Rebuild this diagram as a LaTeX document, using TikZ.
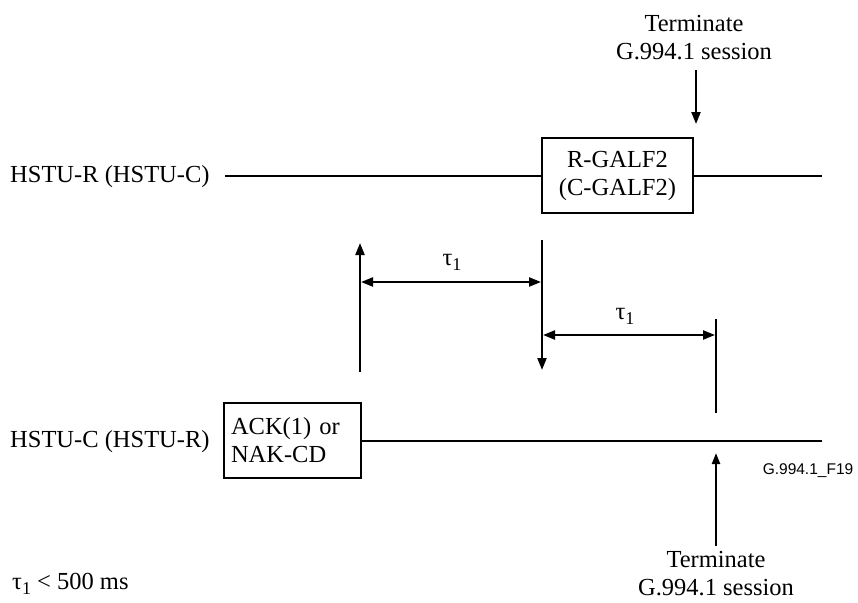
\documentclass[tikz,border=0pt]{standalone}
\usepackage{fontspec}
\setmainfont{Liberation Serif}
\newfontfamily\figsans{Liberation Sans}
\usetikzlibrary{arrows.meta}
\newcommand{\tauone}{τ\raisebox{-5pt}{\fontsize{18}{18}\selectfont 1}}
\begin{document}
\begin{tikzpicture}[x=1pt,y=-1pt,
  every node/.style={font=\fontsize{24.5}{28}\selectfont, inner sep=0pt},
  sig/.style={line width=2.2pt},
  box/.style={draw, line width=1.1pt, inner sep=0pt},
  tip/.style={-{Triangle[length=12pt,width=9pt]}},
  dtip/.style={{Triangle[length=12pt,width=9pt]}-{Triangle[length=12pt,width=9pt]}},
  lbl/.style={align=center}]
\useasboundingbox (0,0) rectangle (858,602);

% upper line
\node[anchor=west] (hr) at (10,177) {HSTU-R (HSTU-C)};
\node[box, minimum width=151pt, minimum height=75pt, align=center] (rg) at (617.5,175.5) {R-GALF2\\(C-GALF2)};
\coordinate (t1) at (225,176);
\coordinate (t2) at (822,176);
\draw[sig] (t1) -- (t1 -| rg.west);
\draw[sig] (t2 -| rg.east) -- (t2);

% top terminate
\node[lbl] (term1) at (694,38) {Terminate\\G.994.1 session};
\coordinate (a1s) at (696,70);
\coordinate (a1e) at (696,124);
\draw[sig, tip] (a1s) -- (a1e);

% lower line
\node[anchor=west] (hc) at (10,442) {HSTU-C (HSTU-R)};
\node[box, minimum width=137pt, minimum height=75pt, align=left, text width=123pt, inner xsep=7pt] (ack) at (292.5,440.5) {ACK(1) or\\NAK-CD};
\coordinate (b2) at (822,441);
\draw[sig] (ack.east |- b2) -- (b2);

% verticals
\coordinate (v1b) at (360,372);
\coordinate (v1t) at (360,243);
\draw[sig, tip] (v1b) -- (v1t);
\coordinate (v2t) at (542,240);
\coordinate (v2b) at (542,370);
\draw[sig, tip] (v2t) -- (v2b);
\coordinate (v3t) at (716,319);
\coordinate (v3b) at (716,413);
\draw[sig] (v3t) -- (v3b);

% tau intervals
\coordinate (h1a) at (361,282);
\coordinate (h1b) at (541,282);
\draw[sig, dtip] (h1a) -- (h1b);
\node (tau1) at (452,262) {\tauone};
\coordinate (h2a) at (543,335);
\coordinate (h2b) at (715,335);
\draw[sig, dtip] (h2a) -- (h2b);
\node (tau2) at (625,316) {\tauone};

% bottom terminate
\coordinate (a2s) at (716,546);
\coordinate (a2e) at (716,453);
\draw[sig, -{Triangle[length=11pt,width=8pt]}] (a2s) -- (a2e);
\node[lbl] (term2) at (716,574) {Terminate\\G.994.1 session};

\node[font=\figsans\fontsize{15.5}{18}\selectfont] (fig) at (808,471) {G.994.1\_F19};
\node[anchor=west] (note) at (12,584) {\tauone{} < 500 ms};
\end{tikzpicture}
\end{document}
